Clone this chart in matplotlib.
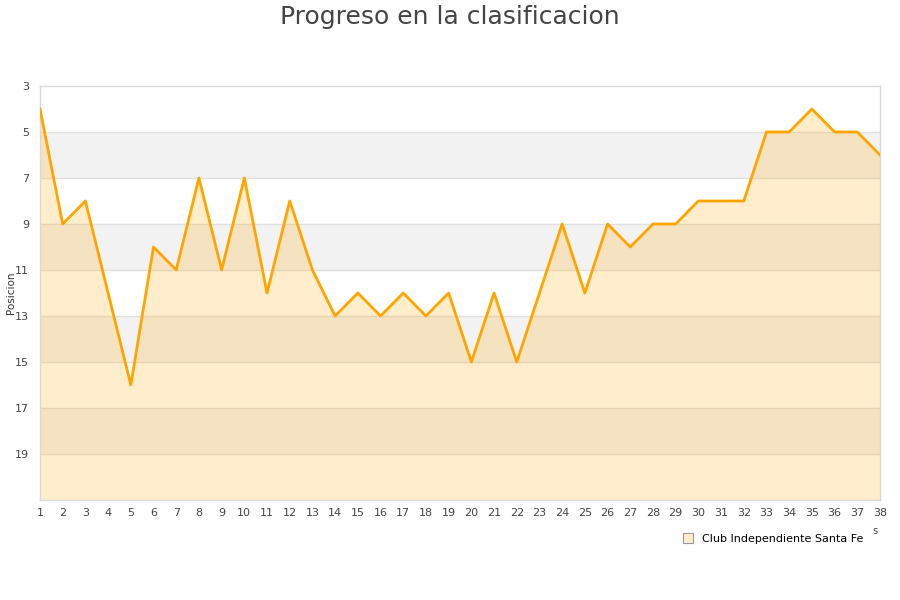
import matplotlib
matplotlib.use('Agg')
import matplotlib.pyplot as plt
from matplotlib.lines import Line2D

# Jornadas y posicion
jornadas = list(range(1, 39))
posicion = [4, 9, 8, 12, 16, 10, 11, 7, 11, 7, 12, 8, 11, 13, 12, 13, 12, 13, 12, 15,
            12, 15, 12, 9, 12, 9, 10, 9, 9, 8, 8, 8, 5, 5, 4, 5, 5, 6]
y_ticks = [3, 5, 7, 9, 11, 13, 15, 17, 19]
equipo = 'Club Independiente Santa Fe'

fig = plt.figure(figsize=(9, 6), dpi=100)
ax = fig.add_axes([40 / 900, 100 / 600, 840 / 900, 414 / 600])

# alternating bands
for lo in range(5, 21, 4):
    ax.axhspan(lo, lo + 2, color='#F2F2F2', zorder=0, lw=0)
for t in y_ticks[1:]:
    ax.axhline(t, color='#E0E0E0', lw=1, zorder=1)

ax.fill_between(jornadas, posicion, 21, color='#FFA500', alpha=0.2, lw=0, zorder=2)
ax.plot(jornadas, posicion, color='#FFA500', lw=2.0, zorder=3)

ax.set_xlim(1, 38)
ax.set_ylim(21, 3)
ax.set_xticks(jornadas)
ax.set_yticks(y_ticks)
ax.tick_params(axis='both', length=0, labelsize=8, colors='#444444', pad=6)
ax.tick_params(axis='y', pad=8)
for s in ax.spines.values():
    s.set_color('#D9D9D9')
    s.set_linewidth(1)
fig.text(11 / 900, 1 - 293 / 600, 'Posicion', rotation=90, ha='center', va='center',
         fontsize=7.5, color='#333333')

fig.text(0.5, 1 - 17 / 600, 'Progreso en la clasificacion', ha='center', va='center',
         fontsize=18, color='#444444')
fig.text(875 / 900, 1 - 531 / 600, 's', ha='center', va='center', fontsize=7, color='#444444')

handle = Line2D([], [], marker='s', ls='', markersize=7, markerfacecolor='#FFEDCC',
                markeredgecolor='#999999', markeredgewidth=0.8)
fig.legend([handle], [equipo], loc='center', bbox_to_anchor=(770 / 900, 1 - 539 / 600),
           frameon=False, fontsize=8, handletextpad=0.3, borderpad=0)

fig.savefig('out.png', dpi=100)
